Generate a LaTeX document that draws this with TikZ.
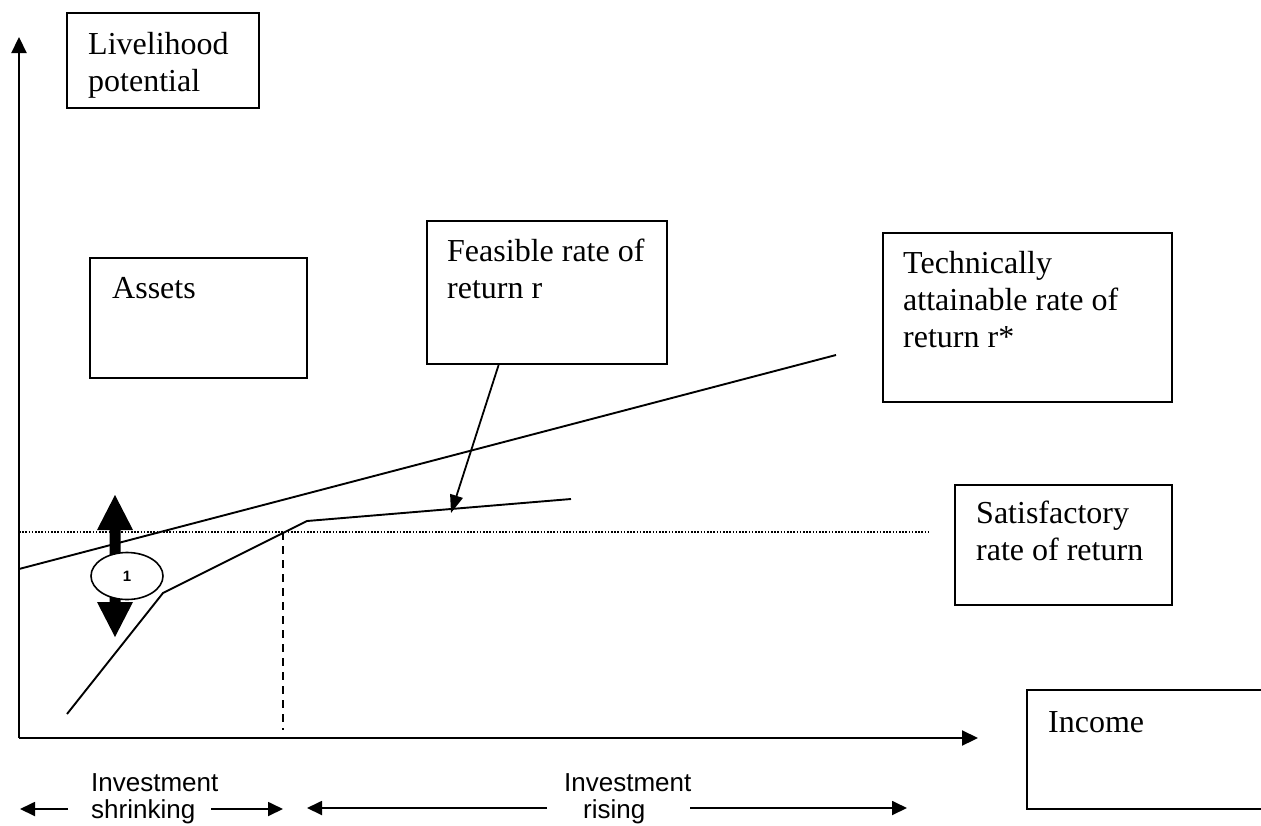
\documentclass[tikz,border=0pt]{standalone}
\usepackage{fontspec}
\setmainfont{Liberation Serif}
\newfontfamily\labelsans{Liberation Sans}
\usetikzlibrary{arrows.meta,fit,calc,shapes.geometric}
\begin{document}
\begin{tikzpicture}[x=1pt,y=-1pt,
  boxstyle/.style={draw, line width=2pt, inner sep=0pt},
  txt/.style={anchor=base west, inner sep=0pt, align=left, font=\fontsize{32}{37}\selectfont},
  sanslbl/.style={anchor=base west, inner sep=0pt, align=left, font=\labelsans\fontsize{26}{27}\selectfont},
  axis/.style={line width=2.2pt, -{Triangle[length=16pt,width=15pt]}},
  curve/.style={line width=1.9pt},
  pointer/.style={line width=1.8pt, -{Triangle[length=18pt,width=13pt]}},
  botarrow/.style={line width=1.8pt, -{Triangle[length=15pt,width=14pt]}},
]
\useasboundingbox (0,0) rectangle (1261,825);
\clip (0,0) rectangle (1261,825);

% boxes (text nodes are anchored at the baseline of their last line)
\node[boxstyle, fit={(67,13)(259,108)}] (livbox) {};
\node[txt] (livtext) at (88,91) {Livelihood\\potential};

\node[boxstyle, fit={(90,258)(307,378)}] (assetbox) {};
\node[txt] (assettext) at (112,298) {Assets};

\node[boxstyle, fit={(427,221)(667,364)}] (feasbox) {};
\node[txt] (feastext) at (447,298) {Feasible rate of\\return r};

\node[boxstyle, fit={(883,233)(1172,402)}] (techbox) {};
\node[txt] (techtext) at (903,347) {Technically\\attainable rate of\\return r*};

\node[boxstyle, fit={(955,485)(1172,605)}] (satbox) {};
\node[txt] (sattext) at (976,560) {Satisfactory\\rate of return};

\node[boxstyle, fit={(1027,690)(1266,809)}] (incbox) {};
\node[txt] (inctext) at (1048,732) {Income};

% axes
\coordinate (O) at (19,738);
\coordinate (ytop) at (19,37);
\coordinate (xend) at (978,738);
\draw[axis] (O) -- (ytop);
\draw[axis] (O) -- (xend);

% technically attainable line
\coordinate (t0) at (19,569);
\coordinate (t1) at (836,355);
\draw[curve] (t0) -- (t1);

% feasible line
\coordinate (f0) at (67,714);
\coordinate (f1) at (163,593);
\coordinate (f2) at (307,521);
\coordinate (f3) at (571,499);
\draw[curve, line join=miter] (f0) -- (f1) -- (f2) -- (f3);

% satisfactory level (dotted) and dashed drop
\coordinate (s0) at (19,532);
\coordinate (s1) at (928,532);
\draw[line width=1.4pt, dash pattern=on 1.6pt off 1.6pt] (s0) -- (s1);
\coordinate (d0) at (283,532);
\coordinate (d1) at (283,730);
\draw[line width=1.7pt, dash pattern=on 8pt off 6pt] (d0) -- (d1);

% pointer from feasible box
\coordinate (ftip) at (451,513);
\draw[pointer] ($(feasbox.south west)!0.3!(feasbox.south east)$) -- (ftip);

% double block arrow with ellipse
\fill (115,495) -- (133,530) -- (120.5,530) -- (120.5,602) -- (133,602) -- (115,637)
      -- (97,602) -- (109.5,602) -- (109.5,530) -- (97,530) -- cycle;
\node[draw, ellipse, fill=white, line width=1.6pt, inner sep=0pt,
      minimum width=72pt, minimum height=47pt,
      font=\labelsans\bfseries\fontsize{15}{15}\selectfont] (one) at (127,576) {1};

% bottom arrows and labels
\coordinate (a1s) at (68,809);  \coordinate (a1e) at (20,809);
\coordinate (a2s) at (211,809); \coordinate (a2e) at (283,809);
\coordinate (a3s) at (547,808); \coordinate (a3e) at (307,808);
\coordinate (a4s) at (690,808); \coordinate (a4e) at (907,808);
\draw[botarrow] (a1s) -- (a1e);
\draw[botarrow] (a2s) -- (a2e);
\draw[botarrow] (a3s) -- (a3e);
\draw[botarrow] (a4s) -- (a4e);
\node[sanslbl] (shrink) at (91,818) {Investment\\shrinking};
\node[sanslbl] (rise) at (564,818) {Investment\\\hspace*{19pt}rising};
\end{tikzpicture}
\end{document}
